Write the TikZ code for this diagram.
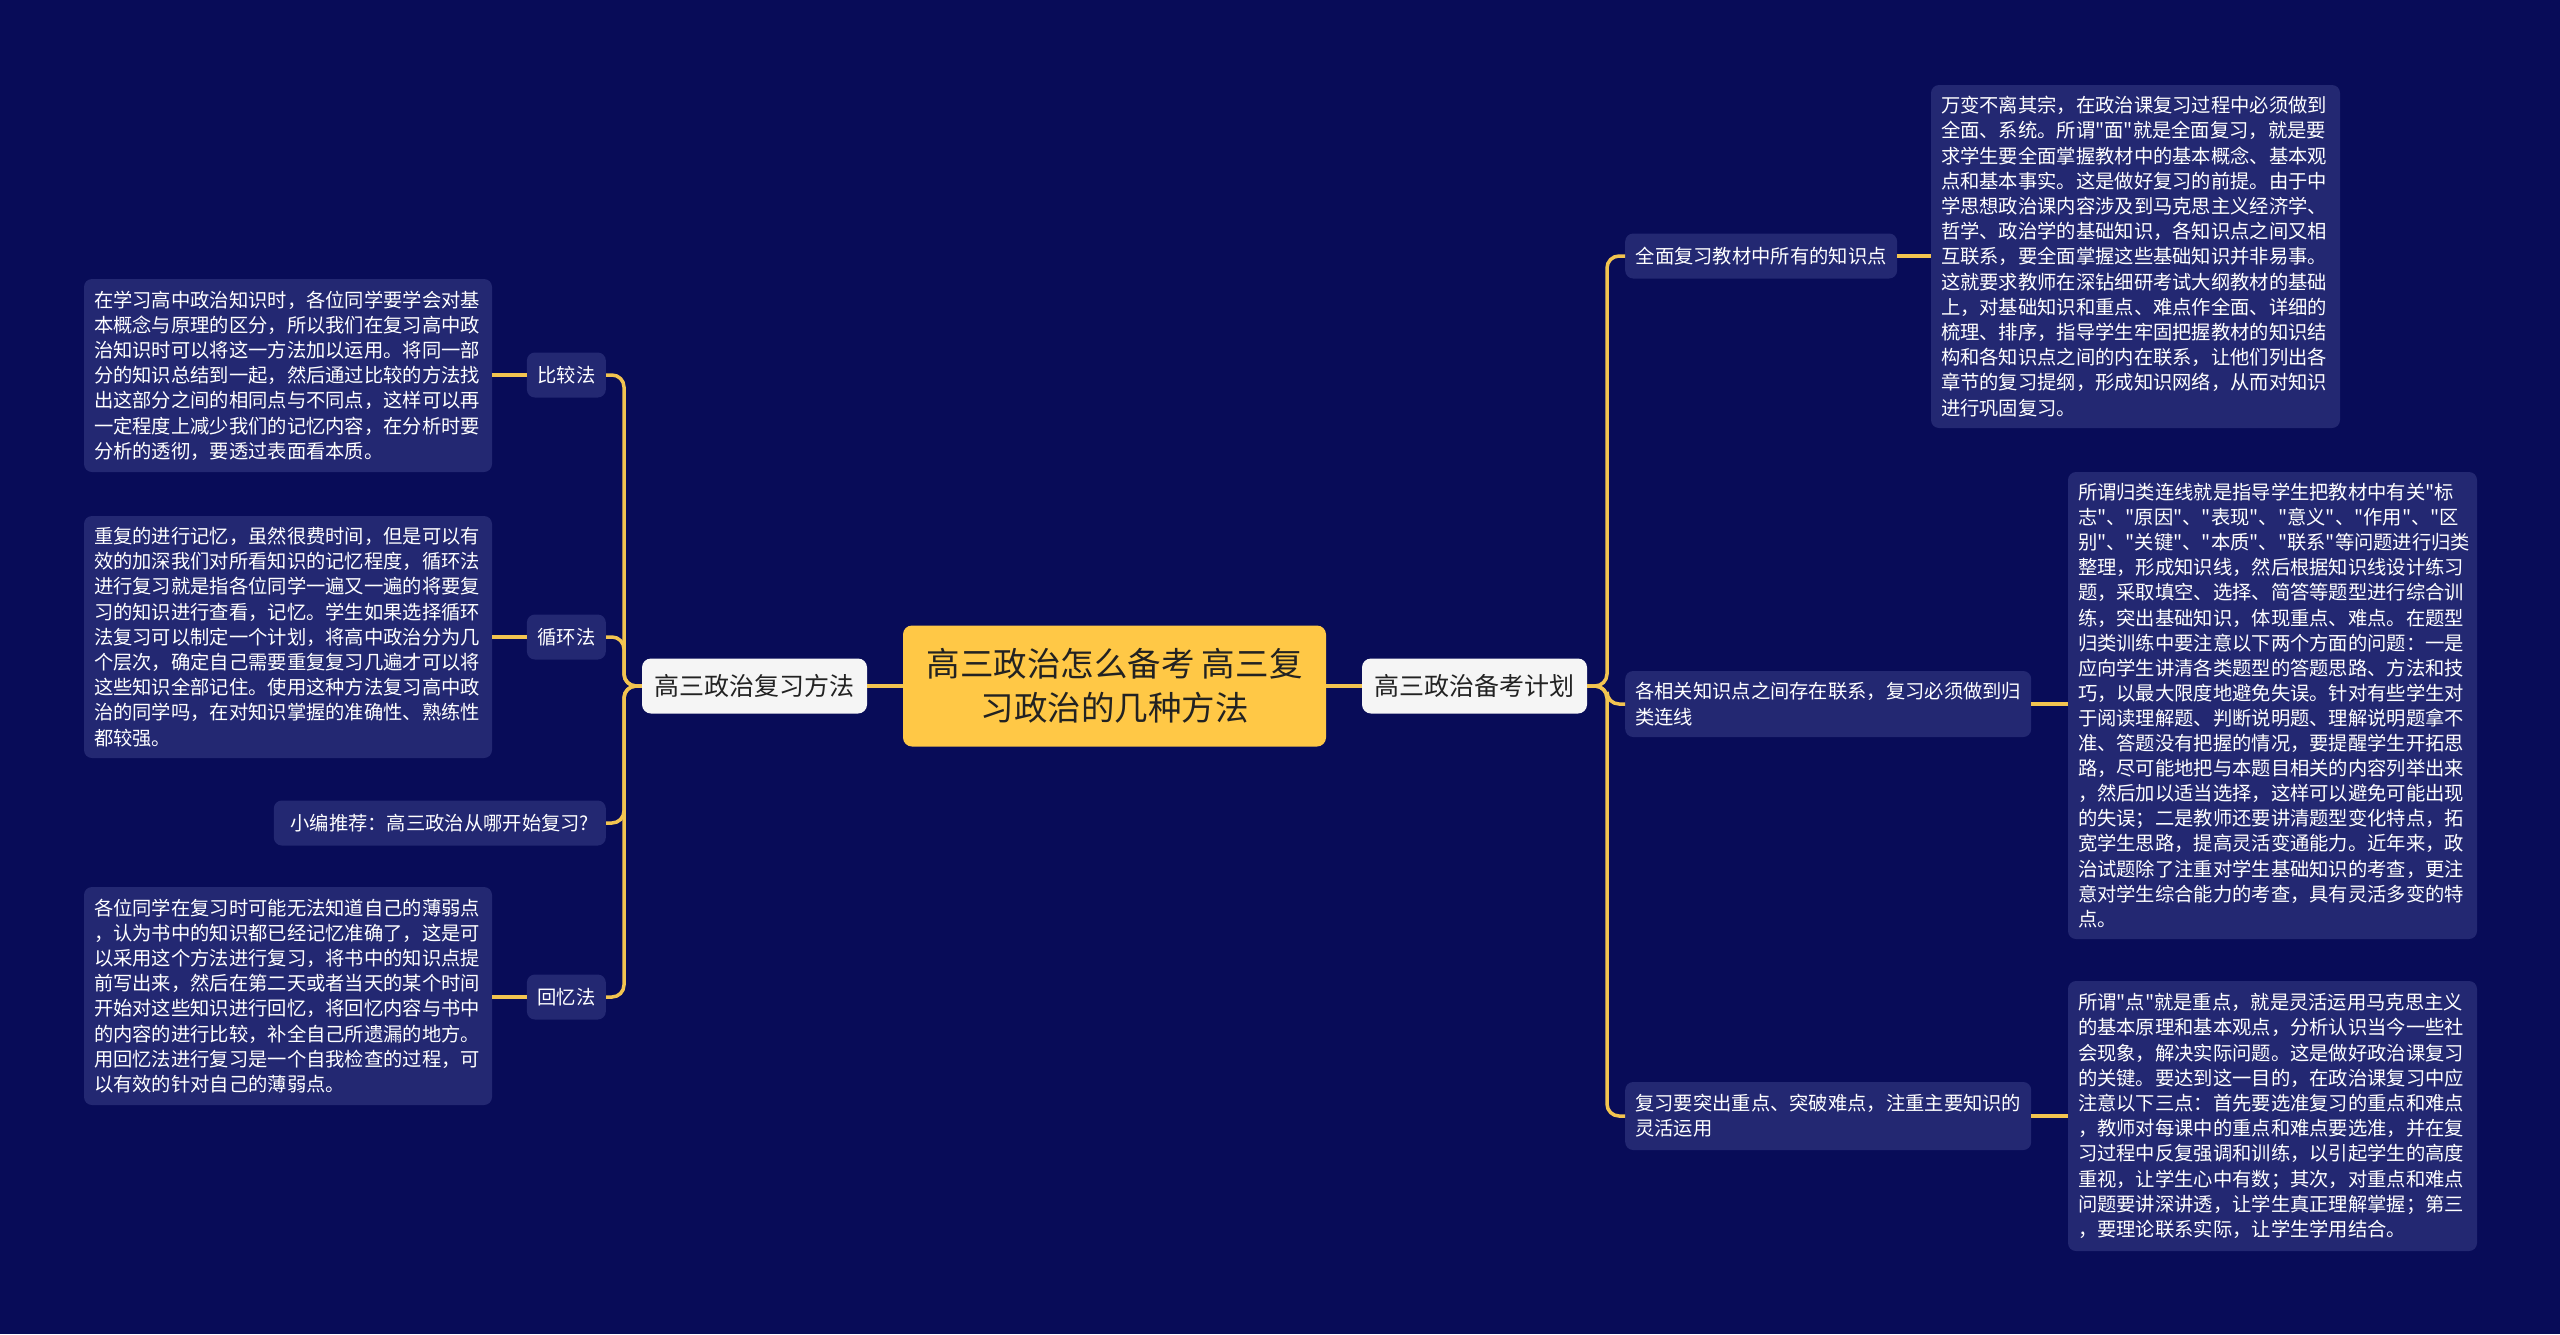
\documentclass[tikz,border=0pt]{standalone}
\usepackage{fontspec}
\newfontfamily\cjk{Noto Sans CJK SC}
\definecolor{bgc}{RGB}{8,12,88}
\definecolor{boxc}{RGB}{35,40,114}
\definecolor{linec}{RGB}{242,196,80}
\definecolor{yel}{RGB}{255,200,70}
\definecolor{wnode}{RGB}{245,245,245}
\definecolor{dtext}{RGB}{34,34,34}
\begin{document}
\begin{tikzpicture}[x=1pt,y=-1pt,
  conn/.style={draw=linec, line width=3.5pt, rounded corners=12pt},
  txtbox/.style={fill=boxc, rounded corners=8pt, text=white,
    font=\cjk\fontsize{19.3}{25.2}\selectfont, align=left,
    text width=388pt, inner xsep=10pt, inner ysep=0pt},
  subnode/.style={fill=boxc, rounded corners=8pt, text=white,
    font=\cjk\fontsize{19.3}{25.2}\selectfont, minimum height=45pt,
    inner xsep=10.5pt, inner ysep=0pt},
  mainnode/.style={fill=wnode, rounded corners=9pt, text=dtext,
    font=\cjk\fontsize{25}{30}\selectfont, minimum width=225pt,
    minimum height=55pt, inner sep=0pt},
  rootnode/.style={fill=yel, rounded corners=9pt, text=dtext,
    font=\cjk\fontsize{33.5}{44}\selectfont, align=center,
    minimum width=423pt, minimum height=121pt, inner sep=0pt}
]
\fill[bgc] (0,0) rectangle (2560,1334);
\useasboundingbox (0,0) rectangle (2560,1334);

% root and main branches
\node[rootnode] (root) at (1114.5,686) {高三政治怎么备考 高三复\\习政治的几种方法};
\node[mainnode] (lm) at (754.5,686) {高三政治复习方法};
\node[mainnode] (rm) at (1474.5,686) {高三政治备考计划};

% left sub nodes
\node[subnode, anchor=east] (bj) at (606,375) {比较法};
\node[subnode, anchor=east] (xh) at (606,637) {循环法};
\node[subnode, anchor=east, minimum width=332pt] (xb) at (606,823) {小编推荐：高三政治从哪开始复习?};
\node[subnode, anchor=east] (hy) at (606,997) {回忆法};

% left text boxes
\node[txtbox, minimum height=193pt] (l1) at (288,375.5) {在学习高中政治知识时，各位同学要学会对基\\本概念与原理的区分，所以我们在复习高中政\\治知识时可以将这一方法加以运用。将同一部\\分的知识总结到一起，然后通过比较的方法找\\出这部分之间的相同点与不同点，这样可以再\\一定程度上减少我们的记忆内容，在分析时要\\分析的透彻，要透过表面看本质。};
\node[txtbox, minimum height=242pt] (l2) at (288,637) {重复的进行记忆，虽然很费时间，但是可以有\\效的加深我们对所看知识的记忆程度，循环法\\进行复习就是指各位同学一遍又一遍的将要复\\习的知识进行查看，记忆。学生如果选择循环\\法复习可以制定一个计划，将高中政治分为几\\个层次，确定自己需要重复复习几遍才可以将\\这些知识全部记住。使用这种方法复习高中政\\治的同学吗，在对知识掌握的准确性、熟练性\\都较强。};
\node[txtbox, minimum height=218pt] (l3) at (288,996) {各位同学在复习时可能无法知道自己的薄弱点\\，认为书中的知识都已经记忆准确了，这是可\\以采用这个方法进行复习，将书中的知识点提\\前写出来，然后在第二天或者当天的某个时间\\开始对这些知识进行回忆，将回忆内容与书中\\的内容的进行比较，补全自己所遗漏的地方。\\用回忆法进行复习是一个自我检查的过程，可\\以有效的针对自己的薄弱点。};

% right sub nodes
\node[subnode, anchor=west, minimum width=269pt] (r1s) at (1625,256) {全面复习教材中所有的知识点};
\node[subnode, anchor=west, minimum height=66pt, text width=386pt, align=left, inner xsep=10pt] (r2s) at (1625,704) {各相关知识点之间存在联系，复习必须做到归\\类连线};
\node[subnode, anchor=west, minimum height=68pt, text width=386pt, align=left, inner xsep=10pt] (r3s) at (1625,1116) {复习要突出重点、突破难点，注重主要知识的\\灵活运用};

% right text boxes
\node[txtbox, minimum height=343pt, text width=389pt] (r1) at (2135.5,256.5) {万变不离其宗，在政治课复习过程中必须做到\\全面、系统。所谓"面"就是全面复习，就是要\\求学生要全面掌握教材中的基本概念、基本观\\点和基本事实。这是做好复习的前提。由于中\\学思想政治课内容涉及到马克思主义经济学、\\哲学、政治学的基础知识，各知识点之间又相\\互联系，要全面掌握这些基础知识并非易事。\\这就要求教师在深钻细研考试大纲教材的基础\\上，对基础知识和重点、难点作全面、详细的\\梳理、排序，指导学生牢固把握教材的知识结\\构和各知识点之间的内在联系，让他们列出各\\章节的复习提纲，形成知识网络，从而对知识\\进行巩固复习。};
\node[txtbox, minimum height=467pt, text width=389pt, font=\cjk\fontsize{19.3}{25.1}\selectfont] (r2) at (2272.5,705.5) {所谓归类连线就是指导学生把教材中有关"标\\志"、"原因"、"表现"、"意义"、"作用"、"区\\别"、"关键"、"本质"、"联系"等问题进行归类\\整理，形成知识线，然后根据知识线设计练习\\题，采取填空、选择、简答等题型进行综合训\\练，突出基础知识，体现重点、难点。在题型\\归类训练中要注意以下两个方面的问题：一是\\应向学生讲清各类题型的答题思路、方法和技\\巧，以最大限度地避免失误。针对有些学生对\\于阅读理解题、判断说明题、理解说明题拿不\\准、答题没有把握的情况，要提醒学生开拓思\\路，尽可能地把与本题目相关的内容列举出来\\，然后加以适当选择，这样可以避免可能出现\\的失误；二是教师还要讲清题型变化特点，拓\\宽学生思路，提高灵活变通能力。近年来，政\\治试题除了注重对学生基础知识的考查，更注\\意对学生综合能力的考查，具有灵活多变的特\\点。};
\node[txtbox, minimum height=270pt, text width=389pt] (r3) at (2272.5,1116) {所谓"点"就是重点，就是灵活运用马克思主义\\的基本原理和基本观点，分析认识当今一些社\\会现象，解决实际问题。这是做好政治课复习\\的关键。要达到这一目的，在政治课复习中应\\注意以下三点：首先要选准复习的重点和难点\\，教师对每课中的重点和难点要选准，并在复\\习过程中反复强调和训练，以引起学生的高度\\重视，让学生心中有数；其次，对重点和难点\\问题要讲深讲透，让学生真正理解掌握；第三\\，要理论联系实际，让学生学用结合。};

% trunk coordinates
\coordinate (lt) at (624,686);
\coordinate (rt) at (1607,686);

% connectors
\draw[conn] (root.west) -- (lm.east);
\draw[conn] (root.east) -- (rm.west);
\draw[conn] (lm.west) -- (lt) |- (bj.east);
\draw[conn] (lm.west) -- (lt) |- (xh.east);
\draw[conn] (lm.west) -- (lt) |- (xb.east);
\draw[conn] (lm.west) -- (lt) |- (hy.east);
\draw[conn] (bj.west) -- (l1.east |- bj.west);
\draw[conn] (xh.west) -- (l2.east |- xh.west);
\draw[conn] (hy.west) -- (l3.east |- hy.west);
\draw[conn] (rm.east) -- (rt) |- (r1s.west);
\draw[conn] (rm.east) -- (rt) |- (r2s.west);
\draw[conn] (rm.east) -- (rt) |- (r3s.west);
\draw[conn] (r1s.east) -- (r1.west |- r1s.east);
\draw[conn] (r2s.east) -- (r2.west |- r2s.east);
\draw[conn] (r3s.east) -- (r3.west |- r3s.east);
\end{tikzpicture}
\end{document}
